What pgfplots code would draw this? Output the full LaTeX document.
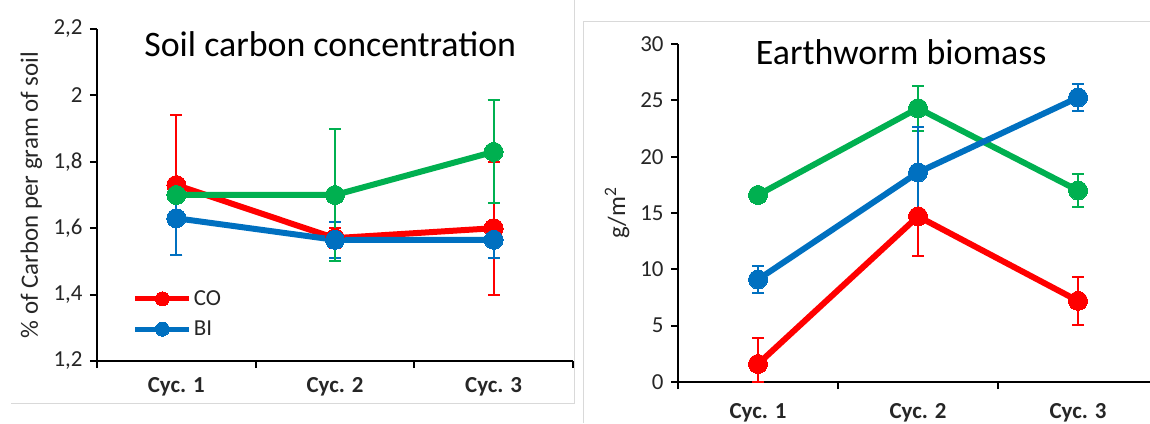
\documentclass[border=0pt]{standalone}
\usepackage{pgfplots}
\pgfplotsset{compat=1.18}
\usepackage{fontspec}
\setmainfont{Carlito}
\definecolor{cred}{HTML}{FF0000}
\definecolor{cblue}{HTML}{0070C0}
\definecolor{cgreen}{HTML}{00B050}
\definecolor{framec}{HTML}{D9D9D9}
\definecolor{txt}{HTML}{262626}
\pgfplotsset{
 mystyle/.style={
  scale only axis,
  axis x line*=bottom, axis y line*=left,
  axis line style={line width=2bp, black, -},
  xmin=-0.5, xmax=2.5,
  xtick={0,1,2}, xticklabels={Cyc. 1, Cyc. 2, Cyc. 3},
  x tick label style={font=\fontsize{23}{26}\selectfont\bfseries, text=txt},
  major x tick style={draw=none},
  minor xtick={-0.5,0.5,1.5,2.5},
  minor x tick style={line width=2bp, black},
  y tick label style={font=\fontsize{23}{26}\selectfont, text=txt, xshift=-4bp},
  major y tick style={line width=2bp, black},
  tick align=outside,
  major tick length=7bp, minor tick length=7bp,
  /pgf/number format/assume math mode=true,
  clip=false,
  legend image code/.code={\draw[##1, mark repeat=2, mark phase=2, mark size=7bp, line width=5bp] plot coordinates {(0bp,0bp) (27bp,0bp) (54bp,0bp)};},
 },
 ser/.style={color=#1, line width=6bp, mark=*, mark size=9.5bp,
   mark options={solid, fill=#1, draw=#1, line width=0pt},
   error bars/y dir=both, error bars/y explicit,
   error bars/error bar style={line width=2bp, color=#1},
   error bars/error mark options={line width=2bp, color=#1, mark size=6bp, rotate=90}},
}
\begin{document}
\begin{tikzpicture}[x=1bp,y=1bp]
\useasboundingbox (0,0) rectangle (1150,423);
\draw[framec, line width=1bp] (11,20) -- (574,20) -- (574,423);
\draw[framec, line width=1bp] (1150,401) -- (583,401) -- (583,0);
\begin{axis}[mystyle, at={(97bp,62bp)}, anchor=south west,
  width=476bp, height=332bp,
  ymin=1.2, ymax=2.2, ytick={1.2,1.4,...,2.2},
  yticklabel style={/pgf/number format/.cd, use comma, fixed, precision=1},
  x tick label style={yshift=-6bp},
  ylabel={\% of Carbon per gram of soil},
  ylabel style={at={(axis description cs:-0.138,0.5)}, anchor=center, font=\fontsize{25}{28}\selectfont, text=txt},
  title={Soil carbon concentration},
  title style={at={(axis description cs:0.49,0.937)}, anchor=center, font=\fontsize{36}{42}\selectfont, text=black},
  legend style={draw=none, fill=none, at={(axis description cs:0.075,0.065)}, anchor=south west, font=\fontsize{23}{26}\selectfont, text=txt, row sep=10bp, inner sep=0pt},
  legend cell align=left,
]
\addplot[ser=cred] coordinates {(0,1.73) +- (0,0.21) (1,1.57) +- (0,0.03) (2,1.60) +- (0,0.20)};
\addlegendentry{CO}
\addplot[ser=cblue] coordinates {(0,1.63) +- (0,0.11) (1,1.565) +- (0,0.055) (2,1.565) +- (0,0.055)};
\addlegendentry{BI}
\addplot[forget plot, ser=cgreen] coordinates {(0,1.70) +- (0,0.02) (1,1.70) +- (0,0.20) (2,1.83) +- (0,0.155)};
\end{axis}
\begin{axis}[mystyle, at={(678bp,41bp)}, anchor=south west,
  width=480bp, height=338bp,
  ymin=0, ymax=30, ytick={0,5,...,30},
  x tick label style={yshift=-11bp},
  ylabel={g/m\textsuperscript{2}},
  ylabel style={at={(axis description cs:-0.127,0.5)}, anchor=center, font=\fontsize{25}{28}\selectfont, text=txt},
  title={Earthworm biomass},
  title style={at={(axis description cs:0.465,0.959)}, anchor=center, font=\fontsize{36}{42}\selectfont, text=black},
]
\addplot[ser=cred] coordinates {(0,1.6) += (0,2.3) -= (0,1.6) (1,14.7) +- (0,3.5) (2,7.2) +- (0,2.1)};
\addplot[ser=cgreen] coordinates {(0,16.6) +- (0,0.4) (1,24.3) +- (0,2.0) (2,17.0) +- (0,1.5)};
\addplot[ser=cblue] coordinates {(0,9.1) +- (0,1.2) (1,18.6) +- (0,4.0) (2,25.25) +- (0,1.2)};
\end{axis}
\end{tikzpicture}
\end{document}
